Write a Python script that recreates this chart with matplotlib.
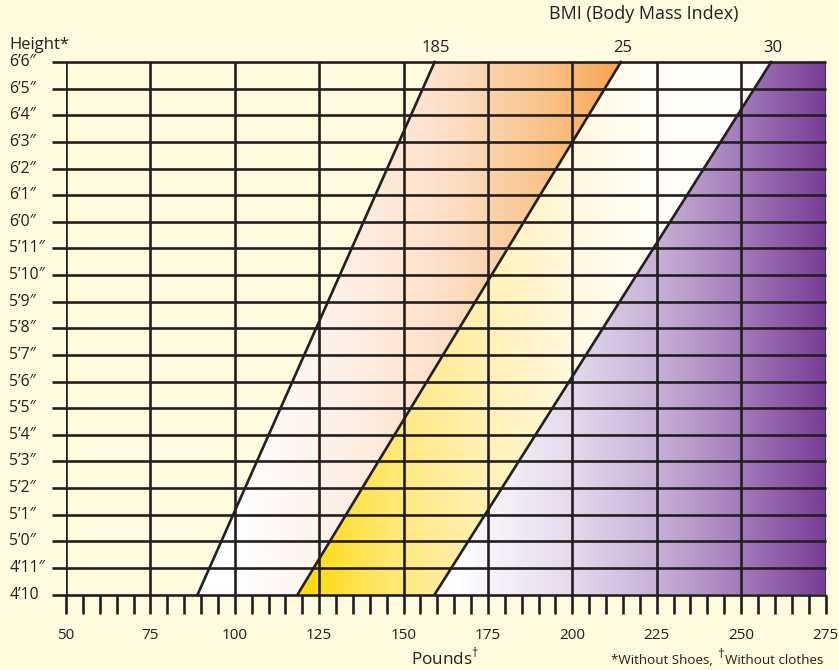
import numpy as np
import matplotlib
matplotlib.use("Agg")
import matplotlib.pyplot as plt
from matplotlib.colors import LinearSegmentedColormap
from matplotlib.patches import Polygon
from matplotlib import transforms

# chart values
pounds_ticks = [50, 75, 100, 125, 150, 175, 200, 225, 250, 275]
pounds_minor = list(range(50, 276, 5))
height_in = list(range(58, 79))
height_labels = ["4’10", "4’11″", "5’0″", "5’1″", "5’2″", "5’3″", "5’4″",
                 "5’5″", "5’6″", "5’7″", "5’8″", "5’9″", "5’10″", "5’11″",
                 "6’0″", "6’1″", "6’2″", "6’3″", "6’4″", "6’5″", "6’6″"]
bmi_labels = ["185", "25", "30"]
bmi_lbs_bottom = [89.0, 118.6, 159.2]   # weight where line meets 4'10
bmi_lbs_top = [159.2, 214.4, 258.9]     # weight where line meets 6'6

INK = "#231F20"
BG = "#FFFBDE"
plt.rcParams["font.family"] = ["Open Sans", "DejaVu Sans"]
plt.rcParams["mathtext.fontset"] = "custom"
plt.rcParams["mathtext.rm"] = "Open Sans"

W, H = 839, 670
fig = plt.figure(figsize=(W / 100, H / 100), dpi=100, facecolor=BG)
x0, x1, ytop, ybot = 66, 825.5, 62, 594.5
ax = fig.add_axes([x0 / W, (H - ybot) / H, (x1 - x0) / W, (ybot - ytop) / H])
ax.set_facecolor(BG)
ax.set_xlim(50, 275)
ax.set_ylim(58, 78)
for s in ax.spines.values():
    s.set_visible(False)

# gradient bands between the BMI lines
band_stops = [
    [(50, "#FFFFFF"), (100, "#FFFFFF"), (130, "#FDF0E8"), (160, "#FCE1CA"),
     (190, "#FAC58E"), (215, "#F8A451"), (275, "#F8A451")],
    [(50, "#FFDA00"), (120, "#FFDA00"), (135, "#FFE24A"), (155, "#FFEB8E"),
     (180, "#FFF3BE"), (205, "#FFFAE6"), (225, "#FFFEF8"), (275, "#FFFFFF")],
    [(50, "#FFFFFF"), (165, "#FFFFFF"), (200, "#E4DAEC"), (225, "#C8B2D7"),
     (250, "#A27CBB"), (275, "#7A3D96")],
]
edges_b = bmi_lbs_bottom + [275]
edges_t = bmi_lbs_top + [275]
grad = np.linspace(0, 1, 900).reshape(1, -1)
for i, stops in enumerate(band_stops):
    cm = LinearSegmentedColormap.from_list(
        f"band{i}", [((p - 50) / 225, c) for p, c in stops])
    poly = Polygon([(edges_b[i], 58), (edges_t[i], 78),
                    (edges_t[i + 1], 78), (edges_b[i + 1], 58)],
                   closed=True, fill=False, lw=0, transform=ax.transData)
    ax.add_patch(poly)
    im = ax.imshow(grad, extent=[50, 275, 58, 78], aspect="auto", cmap=cm,
                   interpolation="bilinear", zorder=1)
    im.set_clip_path(poly)

# grid
lw = 1.9
ax.hlines(height_in, 46, 275, color=INK, lw=lw, clip_on=False, zorder=3)
ax.vlines(pounds_ticks, 58, 78, color=INK, lw=lw, zorder=3)
for b, t in zip(bmi_lbs_bottom, bmi_lbs_top):
    ax.plot([b, t], [58, 78], color=INK, lw=lw, zorder=4, clip_on=False)

for lab, t in zip(bmi_labels, bmi_lbs_top):
    ax.annotate(lab, (t, 78), xytext=(1, 4), textcoords="offset points",
                ha="center", va="bottom", fontsize=12, color=INK)

ax.set_xticks(pounds_ticks)
ax.set_xticks(pounds_minor, minor=True)
ax.set_yticks([])
ax.tick_params(axis="x", which="both", direction="out", length=13.5,
               width=lw, color=INK)
ax.tick_params(axis="x", which="major", pad=10.5, labelsize=11, labelcolor=INK)

fx = transforms.blended_transform_factory(fig.transFigure, ax.transData)
for h, lab in zip(height_in, height_labels):
    ax.text(9.5 / W, h, lab, transform=fx, ha="left", va="center",
            fontsize=11.3, color=INK)

fig.text(9.5 / W, 1 - 45 / H, "Height*", ha="left", va="center",
         fontsize=12, color=INK)
fig.text(644 / W, 1 - 14 / H, "BMI (Body Mass Index)", ha="center",
         va="center", fontsize=13, color=INK)
fig.text(445 / W, 1 - 657 / H, r"Pounds$^{\dag}$", ha="center", va="center",
         fontsize=12.3, color=INK)

# footnote with a full-size raised dagger
r = fig.canvas.get_renderer()
fs = 9.6
t3 = fig.text(823 / W, 1 - 660 / H, "Without clothes", ha="right",
              va="center", fontsize=fs, color=INK)
bb = t3.get_window_extent(r)
t2 = fig.text((bb.x0 - 0.5) / W, 1 - 654 / H, "†", ha="right", va="center",
              fontsize=fs, color=INK)
bb = t2.get_window_extent(r)
fig.text((bb.x0 - 1) / W, 1 - 660 / H, "*Without Shoes, ", ha="right",
         va="center", fontsize=fs, color=INK)

fig.savefig("out.png", dpi=100, facecolor=BG)
